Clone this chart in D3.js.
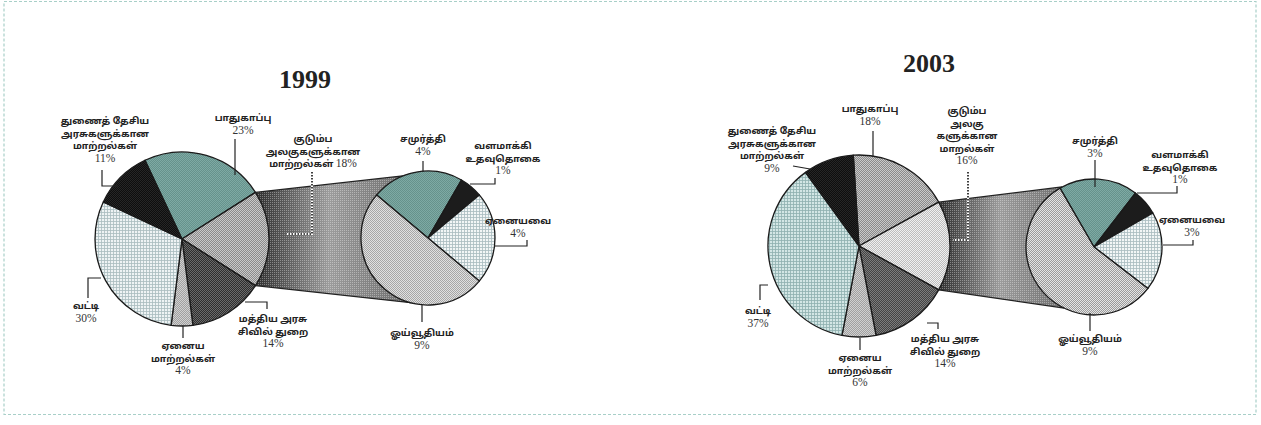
<!DOCTYPE html>
<html lang="ta">
<head>
<meta charset="utf-8">
<title>1999 - 2003 pie of pie</title>
<script src="https://d3js.org/d3.v7.min.js"></script>
<style>
  body { margin: 0; background: #fff; }
  .title { font-family: "Liberation Serif", "DejaVu Serif", serif; font-weight: bold; font-size: 26px; fill: #222; }
  .lbl { font-family: "Noto Sans Tamil", "Lohit Tamil", "Latha", "Noto Sans", sans-serif; font-size: 9.5px; font-weight: bold; fill: #222; }
  .pct { font-family: "Liberation Serif", serif; font-size: 11.5px; fill: #333; }
  .leader { fill: none; stroke: #222; stroke-width: 1.2; }
</style>
</head>
<body>
<div id="vis"></div>
<script>
// data
const years = ["1999", "2003"];
const mainCats = ["பாதுகாப்பு", "குடும்ப அலகுகளுக்கான மாற்றல்கள்", "மத்திய அரசு சிவில் துறை", "ஏனைய மாற்றல்கள்", "வட்டி", "துணைத் தேசிய அரசுகளுக்கான மாற்றல்கள்"];
const main1999 = [23, 18, 14, 4, 30, 11];
const main2003 = [18, 16, 14, 6, 37, 9];
const subCats = ["சமுர்த்தி", "வளமாக்கி உதவுதொகை", "ஏனையவை", "ஓய்வூதியம்"];
const sub1999 = [4, 1, 4, 9];
const sub2003 = [3, 1, 3, 9];

// label text as it is broken in the picture
const mainText1999 = [["பாதுகாப்பு"], ["குடும்ப", "அலகுகளுக்கான", "மாற்றல்கள்"], ["மத்திய அரசு", "சிவில் துறை"], ["ஏனைய", "மாற்றல்கள்"], ["வட்டி"], ["துணைத் தேசிய", "அரசுகளுக்கான", "மாற்றல்கள்"]];
const mainText2003 = [["பாதுகாப்பு"], ["குடும்ப", "அலகு", "களுக்கான", "மாறல்கள்"], ["மத்திய அரசு", "சிவில் துறை"], ["ஏனைய", "மாற்றல்கள்"], ["வட்டி"], ["துணைத் தேசிய", "அரசுகளுக்கான", "மாற்றல்கள்"]];
const subText = [["சமுர்த்தி"], ["வளமாக்கி", "உதவுதொகை"], ["ஏனையவை"], ["ஓய்வூதியம்"]];

const width = 1261, height = 425;

const svg = d3.select("#vis").append("svg")
  .attr("width", width).attr("height", height);
const defs = svg.append("defs");

// stipple = two tone checkerboard
function stipple(id, light, dark) {
  const p = defs.append("pattern").attr("id", id)
    .attr("width", 2).attr("height", 2).attr("patternUnits", "userSpaceOnUse");
  p.append("rect").attr("width", 2).attr("height", 2).attr("fill", light);
  p.append("rect").attr("width", 1).attr("height", 1).attr("fill", dark);
  p.append("rect").attr("x", 1).attr("y", 1).attr("width", 1).attr("height", 1).attr("fill", dark);
}
function grid(id, bg, line) {
  const p = defs.append("pattern").attr("id", id)
    .attr("width", 3).attr("height", 3).attr("patternUnits", "userSpaceOnUse");
  p.append("rect").attr("width", 3).attr("height", 3).attr("fill", bg);
  p.append("rect").attr("width", 3).attr("height", 0.8).attr("fill", line);
  p.append("rect").attr("width", 0.8).attr("height", 3).attr("fill", line);
}
stipple("teal", "#7eaaa4", "#66928c");
stipple("s1", "#c9c9c9", "#8a8a8a");
stipple("s2", "#6a6a6a", "#2e2e2e");
stipple("s3", "#e4e4e4", "#9a9a9a");
stipple("s4", "#d0d0d0", "#a0a0a0");
stipple("s5", "#f0f0f0", "#bdbdbd");
stipple("s6", "#e0e0e0", "#a6a6a6");
stipple("s7", "#7c7c7c", "#444");
stipple("blk", "#262626", "#0e0e0e");
grid("g1", "#eef3f4", "#a9bcbf");
grid("g2", "#d3e6e5", "#8fb0b0");
grid("g3", "#f2f6f6", "#a9bcbf");

// dots over the band
const dp = defs.append("pattern").attr("id", "dots")
  .attr("width", 2).attr("height", 2).attr("patternUnits", "userSpaceOnUse");
dp.append("rect").attr("width", 1).attr("height", 1).attr("fill", "#fff").attr("opacity", 0.35);

// border
svg.append("rect").attr("x", 4).attr("y", 1.5).attr("width", 1252).attr("height", 413)
  .attr("fill", "none").attr("stroke", "#a8cfc8").attr("stroke-width", 1.2)
  .attr("stroke-dasharray", "3,2");

const charts = [
  {
    year: years[0], main: main1999, sub: sub1999, mainText: mainText1999,
    title: [305, 88],
    mc: [182, 239], mr: 87, sc: [428, 238], sr: 67, subStart: -50, band: [-22, 195],
    mainFill: ["url(#teal)", "url(#s1)", "url(#s2)", "url(#s4)", "url(#g1)", "url(#blk)"],
    subFill: ["url(#teal)", "#1c1c1c", "url(#g3)", "url(#s6)"],
    mainLab: [
      { x: 243, y: 121, path: [[235, 139], [235, 175]] },
      { x: 313, y: 142, inline: true, dotted: true, path: [[312, 172], [312, 234], [287, 234]] },
      { x: 273, y: 322, path: [[245, 302], [267, 302], [267, 309]] },
      { x: 183, y: 349, path: [[183, 326], [183, 338]] },
      { x: 86, y: 309, path: [[88, 298], [88, 278], [101, 278]] },
      { x: 105, y: 124, path: [[102, 170], [102, 186], [118, 186]] }
    ],
    subLab: [
      { x: 423, y: 142, path: [[423, 161], [423, 172]] },
      { x: 503, y: 149, path: [[470, 184], [495, 184], [495, 178]] },
      { x: 518, y: 224, path: [[494, 246], [527, 246], [527, 240]] },
      { x: 422, y: 336, path: [[422, 305], [422, 322]] }
    ]
  },
  {
    year: years[1], main: main2003, sub: sub2003, mainText: mainText2003,
    title: [929, 72],
    mc: [859, 246], mr: 91, sc: [1094, 247], sr: 68, subStart: -30, band: [-28, 206],
    mainFill: ["url(#s1)", "url(#s5)", "url(#s7)", "url(#s4)", "url(#g2)", "url(#blk)"],
    subFill: ["url(#teal)", "#1c1c1c", "url(#g3)", "url(#s3)"],
    mainLab: [
      { x: 870, y: 112, path: [[873, 131], [873, 157]] },
      { x: 967, y: 114, dotted: true, path: [[968, 172], [968, 240], [953, 240]] },
      { x: 945, y: 342, path: [[927, 323], [938, 323], [938, 329]] },
      { x: 860, y: 361, path: [[860, 338], [860, 350]] },
      { x: 758, y: 314, path: [[760, 300], [760, 285], [768, 285]] },
      { x: 772, y: 134, path: [[793, 166], [810, 169]] }
    ],
    subLab: [
      { x: 1095, y: 144, path: [[1095, 160], [1095, 187]] },
      { x: 1180, y: 158, path: [[1137, 193], [1177, 193], [1177, 186]] },
      { x: 1192, y: 223, path: [[1163, 245], [1193, 245], [1193, 240]] },
      { x: 1090, y: 342, path: [[1090, 313], [1090, 331]] }
    ]
  }
];

const rad = d => d * Math.PI / 180;
const onCircle = (c, r, a) => [c[0] + r * Math.sin(a), c[1] - r * Math.cos(a)];

charts.forEach((ch, ci) => {
  const total = d3.sum(ch.main);
  // composite slice (index 1) is centred on the right side
  const start = Math.PI / 2 - (ch.main[0] + ch.main[1] / 2) / total * 2 * Math.PI;
  const mainPie = d3.pie().sort(null).startAngle(start).endAngle(start + 2 * Math.PI)(ch.main);
  const subPie = d3.pie().sort(null).startAngle(rad(ch.subStart)).endAngle(rad(ch.subStart) + 2 * Math.PI)(ch.sub);

  // band from composite slice to the second pie
  const comp = mainPie[1];
  const p1 = onCircle(ch.mc, ch.mr, comp.startAngle);
  const p2 = onCircle(ch.sc, ch.sr, rad(ch.band[0]));
  const p3 = onCircle(ch.sc, ch.sr, rad(ch.band[1]));
  const p4 = onCircle(ch.mc, ch.mr, comp.endAngle);
  const gid = "band" + ci;
  const lg = defs.append("linearGradient").attr("id", gid)
    .attr("gradientUnits", "userSpaceOnUse")
    .attr("x1", p1[0]).attr("x2", p2[0]).attr("y1", 0).attr("y2", 0);
  lg.append("stop").attr("offset", 0).attr("stop-color", "#2e2e2e");
  lg.append("stop").attr("offset", 0.5).attr("stop-color", "#9c9c9c");
  lg.append("stop").attr("offset", 1).attr("stop-color", "#6e6e6e");
  const poly = [p1, p2, p3, p4];
  svg.append("polygon").attr("points", poly.join(" ")).attr("fill", `url(#${gid})`);
  svg.append("polygon").attr("points", poly.join(" ")).attr("fill", "url(#dots)");
  svg.append("line").attr("class", "leader").attr("x1", p1[0]).attr("y1", p1[1]).attr("x2", p2[0]).attr("y2", p2[1]);
  svg.append("line").attr("class", "leader").attr("x1", p4[0]).attr("y1", p4[1]).attr("x2", p3[0]).attr("y2", p3[1]);

  // main pie
  const mArc = d3.arc().innerRadius(0).outerRadius(ch.mr);
  svg.append("g").attr("transform", `translate(${ch.mc})`)
    .selectAll("path").data(mainPie).join("path")
    .attr("d", mArc)
    .attr("fill", (d, i) => ch.mainFill[i])
    .attr("stroke", "#1a1a1a").attr("stroke-width", 1.3).attr("stroke-linejoin", "round");

  // second pie
  const sArc = d3.arc().innerRadius(0).outerRadius(ch.sr);
  svg.append("g").attr("transform", `translate(${ch.sc})`)
    .selectAll("path").data(subPie).join("path")
    .attr("d", sArc)
    .attr("fill", (d, i) => ch.subFill[i])
    .attr("stroke", "#1a1a1a").attr("stroke-width", 1.3).attr("stroke-linejoin", "round");

  // title
  svg.append("text").attr("class", "title")
    .attr("x", ch.title[0]).attr("y", ch.title[1]).attr("text-anchor", "middle")
    .text(ch.year);

  // labels
  const line = d3.line();
  function label(l, lines, val) {
    if (l.dotted) {
      svg.append("path").attr("d", line(l.path)).attr("fill", "none").attr("stroke", "#fff").attr("stroke-width", 2.2);
      svg.append("path").attr("d", line(l.path)).attr("fill", "none").attr("stroke", "#111").attr("stroke-width", 1.6).attr("stroke-dasharray", "1.5,1.5");
    } else {
      svg.append("path").attr("class", "leader").attr("d", line(l.path));
    }
    const t = svg.append("text").attr("text-anchor", "middle");
    lines.forEach((s, k) => {
      const last = k === lines.length - 1;
      if (last && l.inline) {
        t.append("tspan").attr("class", "lbl").attr("x", l.x).attr("y", l.y + k * 12.5).text(s + " ");
        t.append("tspan").attr("class", "pct").text(val + "%");
      } else {
        t.append("tspan").attr("class", "lbl").attr("x", l.x).attr("y", l.y + k * 12.5).text(s);
      }
    });
    if (!l.inline) {
      t.append("tspan").attr("class", "pct").attr("x", l.x).attr("y", l.y + lines.length * 12.5).text(val + "%");
    }
  }
  ch.mainLab.forEach((l, i) => label(l, ch.mainText[i], ch.main[i]));
  ch.subLab.forEach((l, i) => label(l, subText[i], ch.sub[i]));
});
</script>
</body>
</html>
